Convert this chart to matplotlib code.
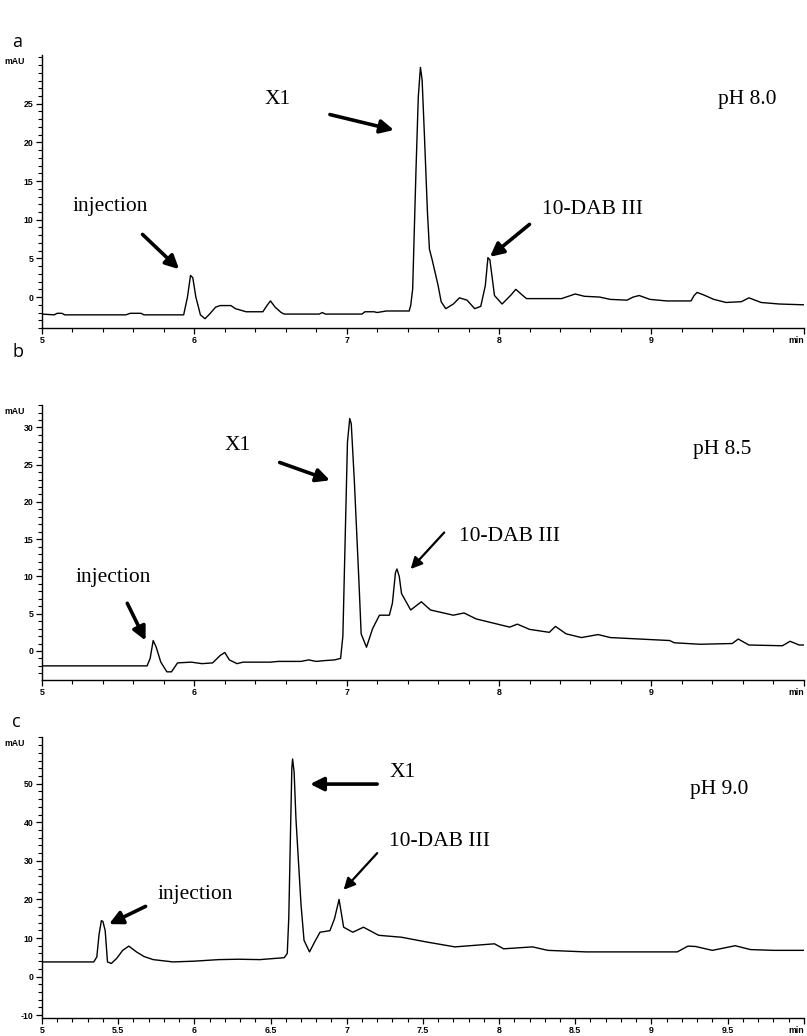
import matplotlib
matplotlib.use("Agg")
import matplotlib.pyplot as plt
from matplotlib.ticker import MultipleLocator


# panel a, pH 8.0  (time in min, signal in mAU)
time_a = [5.00, 5.08, 5.10, 5.13, 5.15, 5.55, 5.58, 5.65, 5.67, 5.93, 5.955, 5.975,
          5.99, 6.01, 6.04, 6.07, 6.10, 6.14, 6.17, 6.24, 6.27, 6.34, 6.45, 6.48,
          6.50, 6.53, 6.57, 6.59, 6.82, 6.84, 6.86, 7.10, 7.12, 7.18, 7.20, 7.26,
          7.41, 7.42, 7.433, 7.444, 7.455, 7.47, 7.484, 7.495, 7.51, 7.53, 7.543,
          7.56, 7.60, 7.62, 7.65, 7.70, 7.74, 7.79, 7.84, 7.88, 7.91, 7.927, 7.94,
          7.97, 8.02, 8.08, 8.11, 8.15, 8.18, 8.41, 8.47, 8.50, 8.56, 8.66, 8.73,
          8.84, 8.88, 8.92, 8.99, 9.10, 9.26, 9.28, 9.30, 9.34, 9.41, 9.49, 9.59,
          9.64, 9.72, 9.84, 10.00]
mau_a = [-2.2, -2.3, -2.1, -2.1, -2.3, -2.3, -2.1, -2.1, -2.3, -2.3, 0.0, 2.8,
         2.5, 0.0, -2.3, -2.8, -2.2, -1.3, -1.1, -1.1, -1.5, -1.9, -1.9, -1.0,
         -0.5, -1.3, -2.0, -2.2, -2.2, -2.0, -2.2, -2.2, -1.9, -1.9, -2.0, -1.8,
         -1.8, -1.1, 1.0, 8.8, 16.5, 25.9, 29.7, 28.1, 21.0, 11.0, 6.2,
         4.9, 1.5, -0.6, -1.5, -0.9, -0.1, -0.4, -1.5, -1.2, 1.5, 5.1, 4.8,
         0.2, -0.9, 0.3, 1.0, 0.3, -0.2, -0.2, 0.2, 0.4, 0.1, 0.0, -0.3,
         -0.4, 0.0, 0.2, -0.3, -0.5, -0.5, 0.2, 0.6, 0.3, -0.3, -0.7, -0.6,
         -0.1, -0.7, -0.9, -1.0]

# panel b, pH 8.5
time_b = [5.00, 5.69, 5.71, 5.73, 5.75, 5.78, 5.82, 5.85, 5.89, 5.98, 6.05, 6.12,
          6.17, 6.20, 6.23, 6.28, 6.32, 6.50, 6.55, 6.70, 6.75, 6.80, 6.85, 6.92,
          6.96, 6.975, 6.99, 7.005, 7.02, 7.03, 7.05, 7.08, 7.095, 7.13, 7.17,
          7.215, 7.28, 7.30, 7.32, 7.33, 7.345, 7.36, 7.42, 7.49, 7.55, 7.70,
          7.77, 7.85, 8.07, 8.12, 8.20, 8.33, 8.37, 8.44, 8.54, 8.65, 8.73, 9.12,
          9.15, 9.32, 9.53, 9.57, 9.64, 9.86, 9.91, 9.97, 10.00]
mau_b = [-2.0, -2.0, -1.0, 1.4, 0.5, -1.5, -2.8, -2.8, -1.6, -1.5, -1.7, -1.6,
         -0.6, -0.2, -1.2, -1.7, -1.5, -1.5, -1.4, -1.4, -1.2, -1.4, -1.3, -1.2,
         -1.0, 2.0, 15.0, 28.0, 31.2, 30.5, 22.9, 9.5, 2.3, 0.5, 3.0,
         4.8, 4.8, 6.4, 10.5, 11.0, 10.0, 7.7, 5.5, 6.6, 5.5, 4.8,
         5.1, 4.3, 3.2, 3.6, 2.9, 2.5, 3.3, 2.3, 1.8, 2.2, 1.8, 1.4,
         1.1, 0.9, 1.0, 1.6, 0.8, 0.7, 1.3, 0.8, 0.8]

# panel c, pH 9.0
time_c = [5.00, 5.34, 5.36, 5.375, 5.39, 5.40, 5.415, 5.43, 5.455, 5.49, 5.53, 5.57,
          5.62, 5.67, 5.73, 5.86, 6.00, 6.16, 6.29, 6.43, 6.59, 6.61, 6.62, 6.63,
          6.64, 6.645, 6.655, 6.667, 6.70, 6.72, 6.756, 6.79, 6.825, 6.89, 6.92,
          6.95, 6.98, 7.04, 7.11, 7.21, 7.36, 7.52, 7.71, 7.97, 8.03, 8.22, 8.32,
          8.57, 8.71, 9.17, 9.24, 9.29, 9.40, 9.55, 9.65, 9.80, 10.00]
mau_c = [3.8, 3.8, 5.1, 11.0, 14.5, 14.3, 11.9, 3.8, 3.4, 4.7, 6.8, 7.9,
         6.4, 5.2, 4.4, 3.8, 4.0, 4.4, 4.5, 4.4, 4.9, 6.0, 15.3, 35.0,
         54.0, 56.4, 53.0, 40.9, 18.8, 9.4, 6.4, 9.0, 11.5, 11.9, 15.0,
         20.0, 12.8, 11.5, 12.8, 10.7, 10.2, 9.0, 7.7, 8.5, 7.2, 7.7, 6.8,
         6.4, 6.4, 6.4, 7.9, 7.8, 6.8, 8.0, 7.0, 6.8, 6.8]

xticks_ab = [5, 6, 7, 8, 9, 10]
xlabels_ab = ["5", "6", "7", "8", "9", "min"]
xticks_c = [5, 5.5, 6, 6.5, 7, 7.5, 8, 8.5, 9, 9.5, 10]
xlabels_c = ["5", "5.5", "6", "6.5", "7", "7.5", "8", "8.5", "9", "9.5", "min"]

TICKFONT = dict(family=["Liberation Sans Narrow", "Liberation Sans"], size=6.3, weight="bold")
SERIF = dict(family="Liberation Serif", size=15.5)
ARROW = dict(arrowstyle="-|>", color="black", lw=2.6, mutation_scale=20,
             shrinkA=0, shrinkB=0)
THIN_ARROW = dict(ARROW, lw=1.6, mutation_scale=17)


def draw_panel(ax, t, v, ylim, yticks, yminor, xticks, xlabels, xminor):
    ax.plot(t, v, color="black", lw=1.0)
    ax.set_xlim(5, 10)
    ax.set_ylim(*ylim)
    for s in ["top", "right"]:
        ax.spines[s].set_visible(False)
    for s in ["left", "bottom"]:
        ax.spines[s].set_linewidth(1.0)
    ax.set_xticks(xticks)
    labels = ax.set_xticklabels(xlabels, **TICKFONT)
    labels[-1].set_horizontalalignment("right")
    ax.set_yticks(yticks)
    ax.set_yticklabels([str(y) for y in yticks], **TICKFONT)
    ax.xaxis.set_minor_locator(MultipleLocator(xminor))
    ax.yaxis.set_minor_locator(MultipleLocator(yminor))
    ax.tick_params(which="major", direction="out", length=4.5, width=0.9, pad=1.5)
    ax.tick_params(which="minor", direction="out", length=3, width=0.8)
    ax.text(-0.022, 0.978, "mAU", transform=ax.transAxes, ha="right", va="center",
            **TICKFONT)


fig = plt.figure(figsize=(8.07, 10.36), dpi=100)

ax_a = fig.add_axes([0.052, 0.6834, 0.944, 0.2635])
draw_panel(ax_a, time_a, mau_a, (-4.0, 31.3), [0, 5, 10, 15, 20, 25], 1,
           xticks_ab, xlabels_ab, 0.2)
ax_a.text(6.46, 25.5, "X1", ha="left", va="center", **SERIF)
ax_a.annotate("", xy=(7.31, 21.6), xytext=(6.89, 23.6), arrowprops=ARROW)
ax_a.text(9.44, 25.5, "pH 8.0", ha="left", va="center", **SERIF)
ax_a.text(5.20, 11.7, "injection", ha="left", va="center", **SERIF)
ax_a.annotate("", xy=(5.90, 3.6), xytext=(5.66, 8.1), arrowprops=ARROW)
ax_a.text(8.28, 11.3, "10-DAB III", ha="left", va="center", **SERIF)
ax_a.annotate("", xy=(7.94, 5.2), xytext=(8.20, 9.4), arrowprops=ARROW)

ax_b = fig.add_axes([0.052, 0.3436, 0.944, 0.2654])
draw_panel(ax_b, time_b, mau_b, (-3.9, 33.0), [0, 5, 10, 15, 20, 25, 30], 1,
           xticks_ab, xlabels_ab, 0.2)
ax_b.text(6.20, 27.6, "X1", ha="left", va="center", **SERIF)
ax_b.annotate("", xy=(6.89, 22.9), xytext=(6.56, 25.3), arrowprops=ARROW)
ax_b.text(9.27, 27.1, "pH 8.5", ha="left", va="center", **SERIF)
ax_b.text(7.74, 15.3, "10-DAB III", ha="left", va="center", **SERIF)
ax_b.annotate("", xy=(7.42, 11.0), xytext=(7.64, 15.9), arrowprops=THIN_ARROW)
ax_b.text(5.22, 9.9, "injection", ha="left", va="center", **SERIF)
ax_b.annotate("", xy=(5.68, 1.4), xytext=(5.56, 6.4), arrowprops=ARROW)

ax_c = fig.add_axes([0.052, 0.0175, 0.944, 0.2711])
draw_panel(ax_c, time_c, mau_c, (-10.7, 62.1), [-10, 0, 10, 20, 30, 40, 50], 2,
           xticks_c, xlabels_c, 0.1)
ax_c.text(7.28, 52.9, "X1", ha="left", va="center", **SERIF)
ax_c.annotate("", xy=(6.76, 49.9), xytext=(7.20, 49.9), arrowprops=ARROW)
ax_c.text(9.25, 48.6, "pH 9.0", ha="left", va="center", **SERIF)
ax_c.text(7.28, 35.0, "10-DAB III", ha="left", va="center", **SERIF)
ax_c.annotate("", xy=(6.98, 22.5), xytext=(7.20, 32.0), arrowprops=THIN_ARROW)
ax_c.text(5.76, 21.2, "injection", ha="left", va="center", **SERIF)
ax_c.annotate("", xy=(5.44, 13.6), xytext=(5.68, 18.2), arrowprops=ARROW)

for letter, ypx in [("a", 42), ("b", 352), ("c", 722)]:
    fig.text(12 / 807, 1 - ypx / 1036, letter, ha="left", va="center",
             family="Open Sans", size=13)

fig.savefig("out.png", dpi=100)
